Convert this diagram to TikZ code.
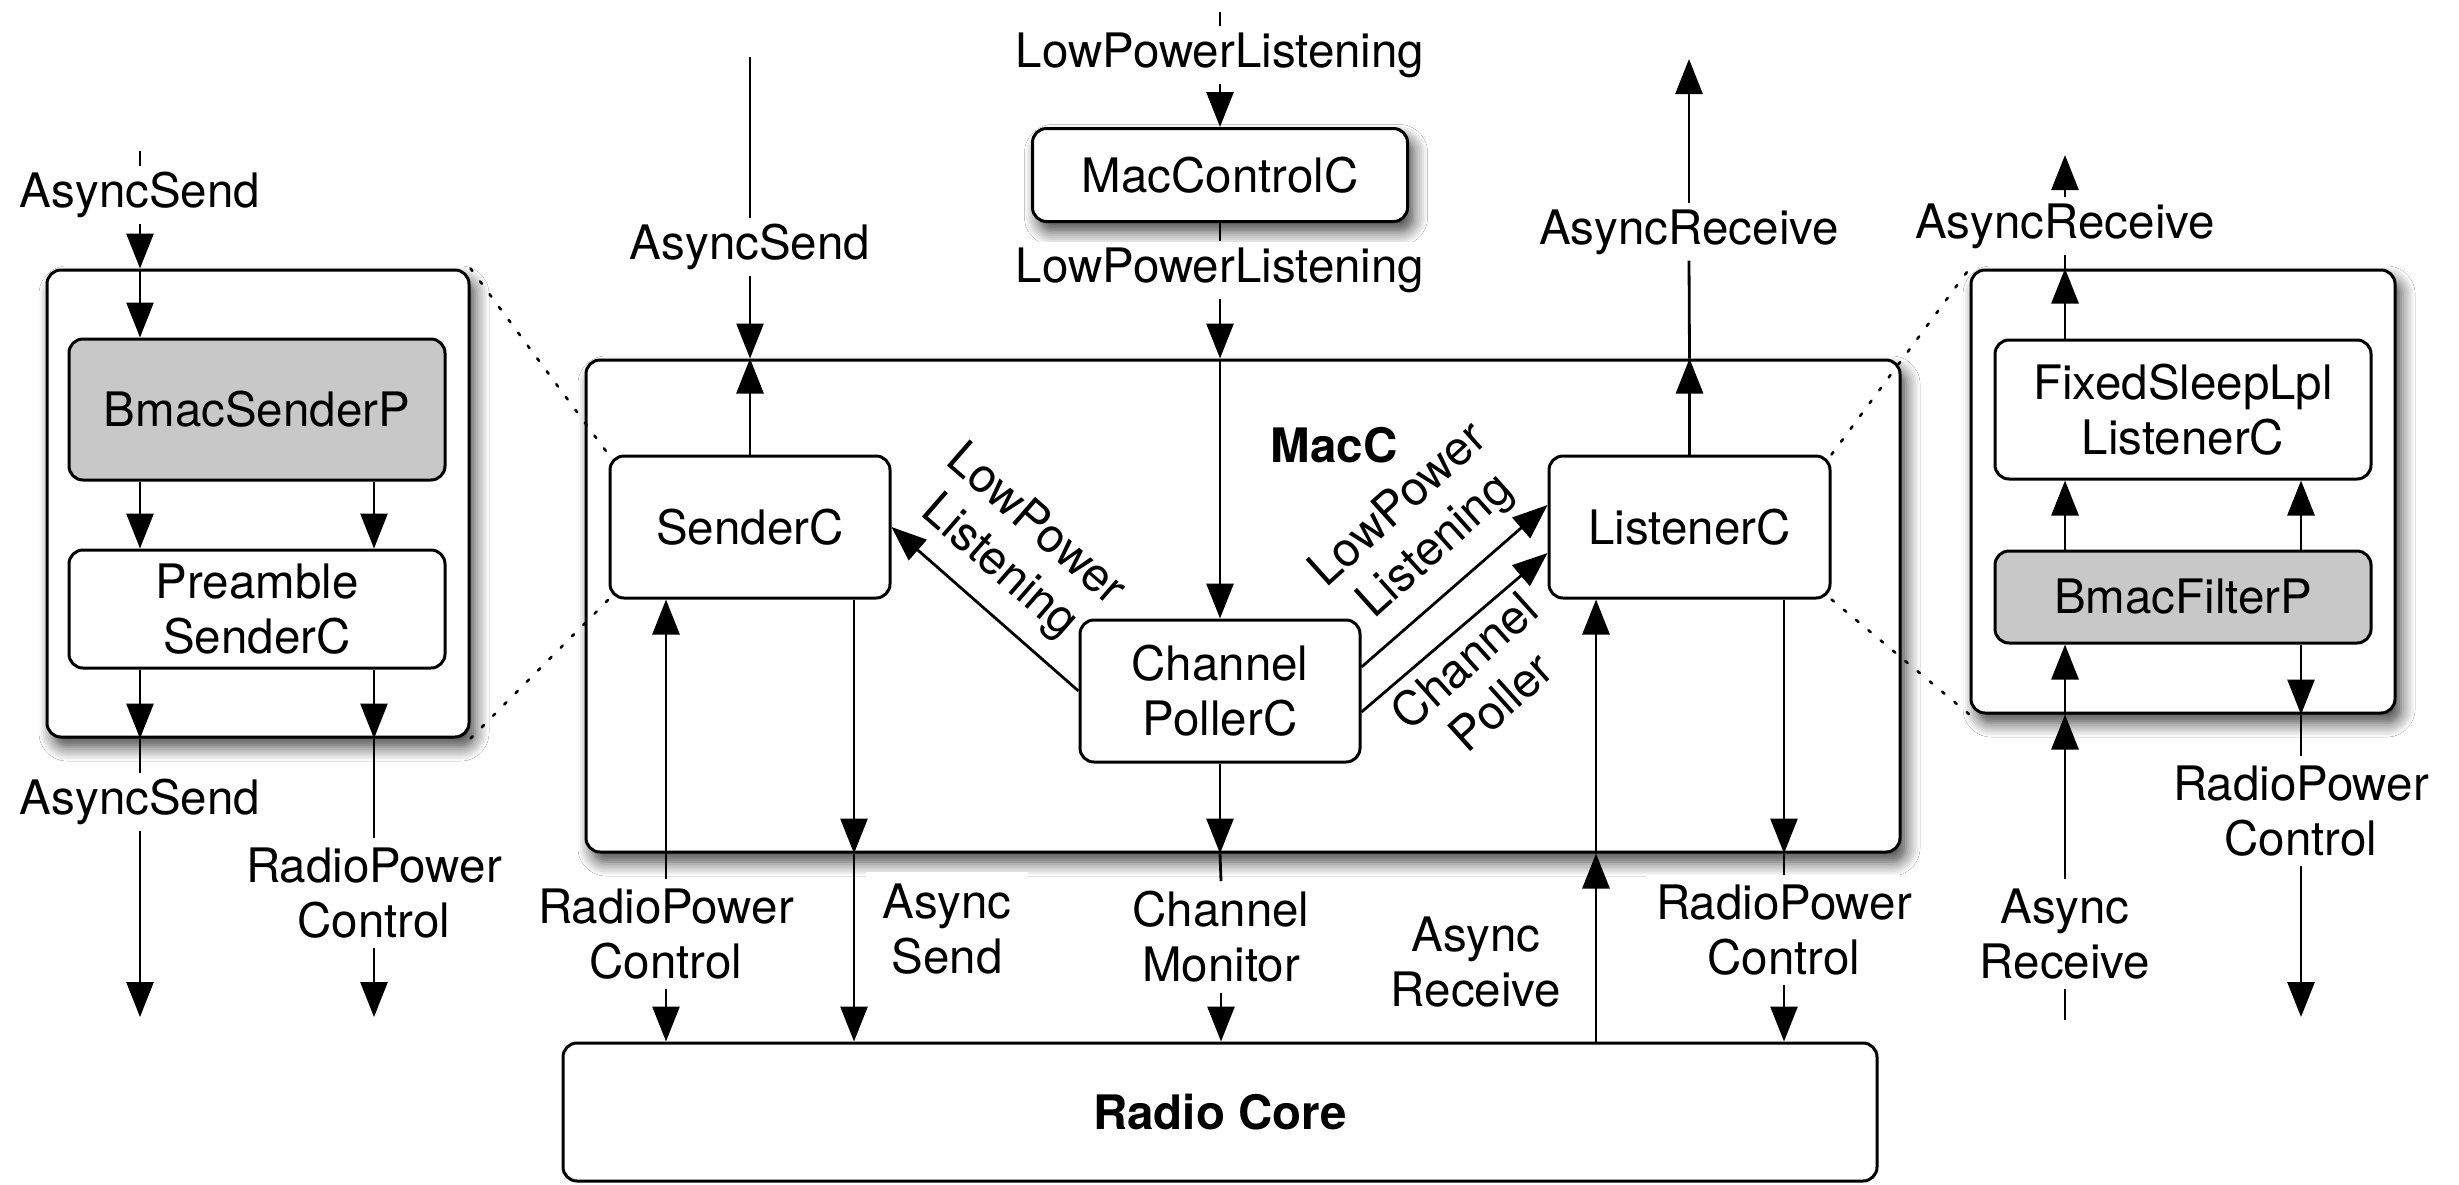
\documentclass[tikz,border=0pt]{standalone}
\usepackage{fontspec}
\setmainfont{TeX Gyre Heros}
\usetikzlibrary{arrows.meta,calc,shadows.blur}
\definecolor{boxgray}{RGB}{200,200,200}

\begin{document}
\begin{tikzpicture}[
  x=1pt, y=-1pt,
  every node/.append style={font=\fontsize{47.5}{55}\selectfont},
  box/.style={draw, line width=3pt, rounded corners=14pt, fill=white,
              inner sep=0pt, align=center},
  gbox/.style={box, fill=boxgray},
  shade/.style={blur shadow={shadow xshift=6pt, shadow yshift=-10pt,
              shadow blur radius=14pt, shadow blur steps=8, shadow opacity=75}},
  wire/.style={line width=2.8pt},
  arr/.style={wire, -{Triangle[length=35pt,width=27pt]}},
  lbl/.style={inner sep=6pt, align=center, fill=white},
  lbltwo/.style={lbl, inner sep=10pt},
  rot/.style={inner sep=0pt, align=center},
  dotline/.style={line width=2.6pt, dash pattern=on 3pt off 13pt, line cap=round}
]
\fill[white] (0,0) rectangle (2459,1184);
\useasboundingbox (0,0) rectangle (2459,1184);

% ---------- enclosing components ----------
\node[box, shade, minimum width=422pt, minimum height=467pt] (Lbox) at (258,503.5) {};
\node[box, shade, minimum width=424pt, minimum height=443pt] (Rbox) at (2183,491.5) {};
\node[box, shade, minimum width=1314pt, minimum height=492pt] (MacC) at (1243,606) {};
\node[box, shade, minimum width=375pt, minimum height=93pt] (MCC) at (1220,175) {MacControlC};
\node[box, minimum width=1314pt, minimum height=138pt] (RC) at (1220,1112) {\bfseries Radio Core};
\node[inner sep=0pt, font=\fontsize{47.5}{55}\selectfont\bfseries] (MacCl) at (1334,445) {MacC};

% ---------- inner components ----------
\node[gbox, minimum width=376pt, minimum height=141pt] (BSP) at (257,409.5) {BmacSenderP};
\node[box, minimum width=376pt, minimum height=118pt] (PSC) at (257,609) {Preamble\\SenderC};
\node[box, minimum width=280pt, minimum height=142pt] (SC) at (750,527) {SenderC};
\node[box, minimum width=281pt, minimum height=142pt] (LC) at (1689.5,527) {ListenerC};
\node[box, minimum width=280pt, minimum height=142pt] (CPC) at (1220,691) {Channel\\PollerC};
\node[box, minimum width=376pt, minimum height=139pt] (FSL) at (2183,409.5) {FixedSleepLpl\\ListenerC};
\node[gbox, minimum width=376pt, minimum height=92pt] (BFP) at (2183,597) {BmacFilterP};

% ---------- wire columns ----------
\coordinate (xL1) at (140,0);
\coordinate (xL2) at (374,0);
\coordinate (xAS) at (854,0);
\coordinate (xAR) at (1596,0);
\coordinate (xRP) at (1784,0);
\coordinate (xR1) at (2065,0);
\coordinate (xR2) at (2301,0);

% ---------- sender side panel ----------
\node[lbl] (lAS1) at (140,195) {AsyncSend};
\coordinate (t1) at (140,151);
\draw[wire] (t1) -- (lAS1.north);
\draw[arr] (lAS1.south) -- (xL1 |- Lbox.north);
\draw[arr] (xL1 |- Lbox.north) -- (xL1 |- BSP.north);
\draw[arr] (xL1 |- BSP.south) -- (xL1 |- PSC.north);
\draw[arr] (xL2 |- BSP.south) -- (xL2 |- PSC.north);
\draw[arr] (xL1 |- PSC.south) -- (xL1 |- Lbox.south);
\draw[arr] (xL2 |- PSC.south) -- (xL2 |- Lbox.south);
\node[lbl] (lAS2) at (140,802) {AsyncSend};
\coordinate (e1) at (140,1017);
\draw[wire] (xL1 |- Lbox.south) -- (lAS2.north);
\draw[arr] (lAS2.south) -- (e1);
\node[lbltwo] (lRP1) at (374,893) {RadioPower\\Control};
\coordinate (e2) at (374,1017);
\draw[wire] (xL2 |- Lbox.south) -- (lRP1.north);
\draw[arr] (lRP1.south) -- (e2);

% ---------- MacControlC ----------
\node[lbl] (lLP1) at (1220,55) {LowPowerListening};
\coordinate (t2) at (1220,12);
\draw[wire] (t2) -- (lLP1.north);
\draw[arr] (lLP1.south) -- (MCC.north);
\node[lbl] (lLP2) at (1220,270) {LowPowerListening};
\draw[wire] (MCC.south) -- (lLP2.north);
\draw[arr] (lLP2.south) -- (lLP2 |- MacC.north);
\draw[arr] (lLP2 |- MacC.north) -- (CPC.north);

% ---------- SenderC / ListenerC upwards ----------
\node[lbl] (lAS3) at (750,247) {AsyncSend};
\coordinate (t3) at (750,57);
\draw[wire] (t3) -- (lAS3.north);
\draw[arr] (lAS3.south) -- (SC |- MacC.north);
\draw[arr] (SC.north) -- (SC |- MacC.north);

\node[lbl] (lAR1) at (1689,232) {AsyncReceive};
\coordinate (e3) at (1689,59);
\draw[arr] (LC.north) -- (LC |- MacC.north);
\draw[wire] (LC |- MacC.north) -- (lAR1.south);
\draw[arr] (lAR1.north) -- (e3);

% ---------- ChannelPollerC links ----------
\draw[arr] (CPC.west) -- (SC.east);
\draw[arr] ($(CPC.east)+(0,-24)$) -- ($(LC.west)+(0,-22)$);
\draw[arr] ($(CPC.east)+(0,21)$) -- ($(LC.west)+(0,26)$);
\node[rot, rotate=-41] (rl1) at (1017,547) {LowPower\\Listening};
\node[rot, rotate=42] (rl2) at (1418,527) {LowPower\\Listening};
\node[rot, rotate=42] (rl3) at (1482,681) {Channel\\Poller};

% ---------- towards Radio Core ----------
\node[lbltwo] (lRP2) at (666,934) {RadioPower\\Control};
\draw[arr] (lRP2.north) -- (lRP2 |- SC.south);
\draw[arr] (lRP2.south) -- (lRP2 |- RC.north);

\draw[arr] (xAS |- SC.south) -- (xAS |- MacC.south);
\draw[arr] (xAS |- MacC.south) -- (xAS |- RC.north);
\node[lbl, inner xsep=16pt, inner ysep=12pt] (lAS4) at (947,929) {Async\\Send};

\draw[arr] (CPC.south) -- (CPC |- MacC.south);
\node[lbltwo] (lCM) at (1221,937) {Channel\\Monitor};
\draw[wire] (CPC |- MacC.south) -- (lCM.north);
\draw[arr] (lCM.south) -- (lCM |- RC.north);

\draw[arr] (xAR |- RC.north) -- (xAR |- MacC.south);
\draw[arr] (xAR |- MacC.south) -- (xAR |- LC.south);
\node[lbltwo] (lAR4) at (1476,962) {Async\\Receive};

\draw[arr] (xRP |- LC.south) -- (xRP |- MacC.south);
\node[lbltwo] (lRP3) at (1784,930) {RadioPower\\Control};
\draw[wire] (xRP |- MacC.south) -- (lRP3.north);
\draw[arr] (lRP3.south) -- (xRP |- RC.north);

% ---------- listener side panel ----------
\draw[arr] (xR1 |- FSL.north) -- (xR1 |- Rbox.north);
\node[lbl] (lAR2) at (2065,226) {AsyncReceive};
\coordinate (e4) at (2065,155);
\draw[wire] (xR1 |- Rbox.north) -- (lAR2.south);
\draw[arr] (lAR2.north) -- (e4);
\draw[arr] (xR1 |- BFP.north) -- (xR1 |- FSL.south);
\draw[arr] (xR2 |- BFP.north) -- (xR2 |- FSL.south);
\draw[arr] (xR1 |- Rbox.south) -- (xR1 |- BFP.south);
\draw[arr] (xR2 |- BFP.south) -- (xR2 |- Rbox.south);
\node[lbltwo] (lAR3) at (2065,934) {Async\\Receive};
\coordinate (t4) at (2065,1020);
\draw[arr] (lAR3.north) -- (xR1 |- Rbox.south);
\draw[wire] (lAR3.south) -- (t4);
\node[lbltwo] (lRP4) at (2301,811) {RadioPower\\Control};
\coordinate (e5) at (2301,1017);
\draw[wire] (xR2 |- Rbox.south) -- (lRP4.north);
\draw[arr] (lRP4.south) -- (e5);

% ---------- zoom guides ----------
\draw[dotline] (Lbox.north east) -- (SC.north west);
\draw[dotline] (Lbox.south east) -- (SC.south west);
\draw[dotline] (LC.north east) -- (Rbox.north west);
\draw[dotline] (LC.south east) -- (Rbox.south west);
\end{tikzpicture}
\end{document}
